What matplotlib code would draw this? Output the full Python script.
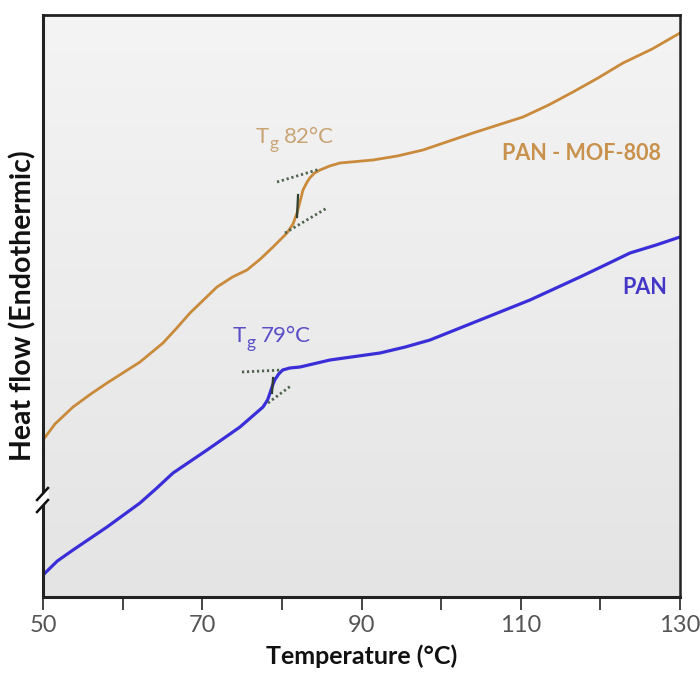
import matplotlib
matplotlib.use("Agg")
import matplotlib.pyplot as plt
import numpy as np
from matplotlib.colors import LinearSegmentedColormap

# ---- data (y in arbitrary heat-flow units) ----
temp_mof = [50.0, 51.5, 53.77, 56.0, 58.04, 62.18, 65.07, 66.8, 68.46, 71.85,
            73.8, 75.62, 77.3, 78.89, 80.64, 81.4, 81.9, 82.3, 82.65, 83.1,
            83.5, 84.1, 84.79, 86.0, 87.3, 91.44, 94.5, 97.72, 104.0,
            110.28, 113.5, 116.56, 119.7, 122.84, 126.5, 130.0]
heat_mof = [157, 173, 190, 203, 214, 235, 254, 269, 284, 310,
            320, 327, 338, 350, 364, 373, 384, 396, 407, 414,
            419, 424, 427, 431, 434, 437, 441, 447, 464,
            480, 492, 505, 519, 534, 548, 564]

temp_pan = [50.0, 51.8, 53.77, 58.04, 62.18, 64.3, 66.33, 70.6, 74.74, 77.63,
            78.2, 78.51, 78.8, 79.1, 79.6, 80.1, 81.0, 82.28, 86.04, 92.32,
            95.5, 98.6, 104.88, 111.16, 117.44, 120.6, 123.72, 127.0, 130.0]
heat_pan = [22, 36, 47, 70, 94, 109, 124, 147, 170, 190,
            197, 204, 211, 217, 223, 227, 229, 230, 237, 244,
            250, 257, 277, 297, 320, 332, 344, 352, 360]

# tangent construction lines (x pairs, y pairs)
mof_tan_upper = ([79.39, 84.79], [415, 428])
mof_tan_lower = ([80.39, 85.67], [364, 389])
mof_tg_mark = ([82.03, 81.9], [402, 380])
pan_tan_upper = ([74.99, 80.02], [225, 227])
pan_tan_lower = ([78.26, 81.27], [194, 212])
pan_tg_mark = ([78.89, 78.76], [219, 204])

xticks_major = [50, 70, 90, 110, 130]
xticks_minor = [60, 80, 100, 120]
xlim = (50, 130)
ylim = (0, 582)

orange_line = "#c98a3c"
orange_text = "#c8914c"
orange_tg = "#c9a474"
blue_line = "#3a2ed8"
blue_text = "#4437c8"
blue_tg = "#5a4ec8"
dot_col = "#4f634f"

plt.rcParams['font.family'] = ['Lato', 'DejaVu Sans']

fig = plt.figure(figsize=(7, 6.75), dpi=100)
fig.patch.set_facecolor("white")
ax = fig.add_axes([43/700, 1-597/675, 637/700, 582/675])

# background gradient
grad = np.linspace(0, 1, 256).reshape(-1, 1)
cm = LinearSegmentedColormap.from_list("bg", ["#e4e4e4", "#f4f4f4"])
ax.imshow(grad, extent=[0, 1, 0, 1], transform=ax.transAxes, aspect="auto",
          cmap=cm, origin="lower", zorder=0)

ax.plot(temp_mof, heat_mof, color=orange_line, lw=2.0, zorder=3,
        solid_joinstyle="round", solid_capstyle="round")
ax.plot(temp_pan, heat_pan, color=blue_line, lw=2.3, zorder=3,
        solid_joinstyle="round", solid_capstyle="round")

for (xs, ys) in [mof_tan_upper, mof_tan_lower, pan_tan_upper, pan_tan_lower]:
    ax.plot(xs, ys, color=dot_col, lw=2.0, linestyle=(0, (0.8, 1.0)), zorder=4)
for (xs, ys) in [mof_tg_mark, pan_tg_mark]:
    ax.plot(xs, ys, color="#2f3f2f", lw=1.6, zorder=5)


def tg_label(x, y, value, color):
    kw = dict(xy=(x, y), xycoords="data", textcoords="offset points",
              color=color, va="center", ha="left", zorder=6)
    ax.annotate("T", xytext=(-28.0, 0), fontsize=16, **kw)
    ax.annotate("g", xytext=(-18.3, -5.0), fontsize=12.5, **kw)
    ax.annotate(value, xytext=(-8.0, 0), fontsize=16, **kw)


tg_label(81.65, 460, "82°C", orange_tg)
tg_label(78.76, 261, "79°C", blue_tg)

ax.text(117.69, 444, "PAN - MOF-808", color=orange_text, fontsize=15.5,
        fontweight="bold", ha="center", va="center", zorder=6)
ax.text(125.6, 310, "PAN", color=blue_text, fontsize=15.5,
        fontweight="bold", ha="center", va="center", zorder=6)

ax.set_xlim(*xlim)
ax.set_ylim(*ylim)
ax.set_xticks(xticks_major)
ax.set_xticks(xticks_minor, minor=True)
ax.set_yticks([])
ax.tick_params(axis="x", which="both", direction="out", length=9, width=1.4,
               color="#444444", pad=4)
ax.tick_params(axis="x", which="major", labelsize=17, labelcolor="#555555")

for side, lw in [("left", 2.2), ("bottom", 2.2), ("top", 2.0), ("right", 1.8)]:
    ax.spines[side].set_linewidth(lw)
    ax.spines[side].set_color("#222222")
    ax.spines[side].set_zorder(7)

ax.set_xlabel("Temperature (°C)", fontsize=18, fontweight="bold", labelpad=6,
              color="#111111")
ax.set_ylabel("Heat flow (Endothermic)", fontsize=20.5, fontweight="bold",
              labelpad=5, color="#111111")

# axis break on left spine
brk_x = [49.25, 50.63]
ax.fill([49.25, 50.63, 50.63, 49.25], [85, 97, 109, 97], color="white",
        clip_on=False, zorder=8)
ax.plot(brk_x, [85, 97], color="#111111", lw=1.8, clip_on=False, zorder=9)
ax.plot(brk_x, [97, 109], color="#111111", lw=1.8, clip_on=False, zorder=9)

fig.savefig("out.png", dpi=100)
